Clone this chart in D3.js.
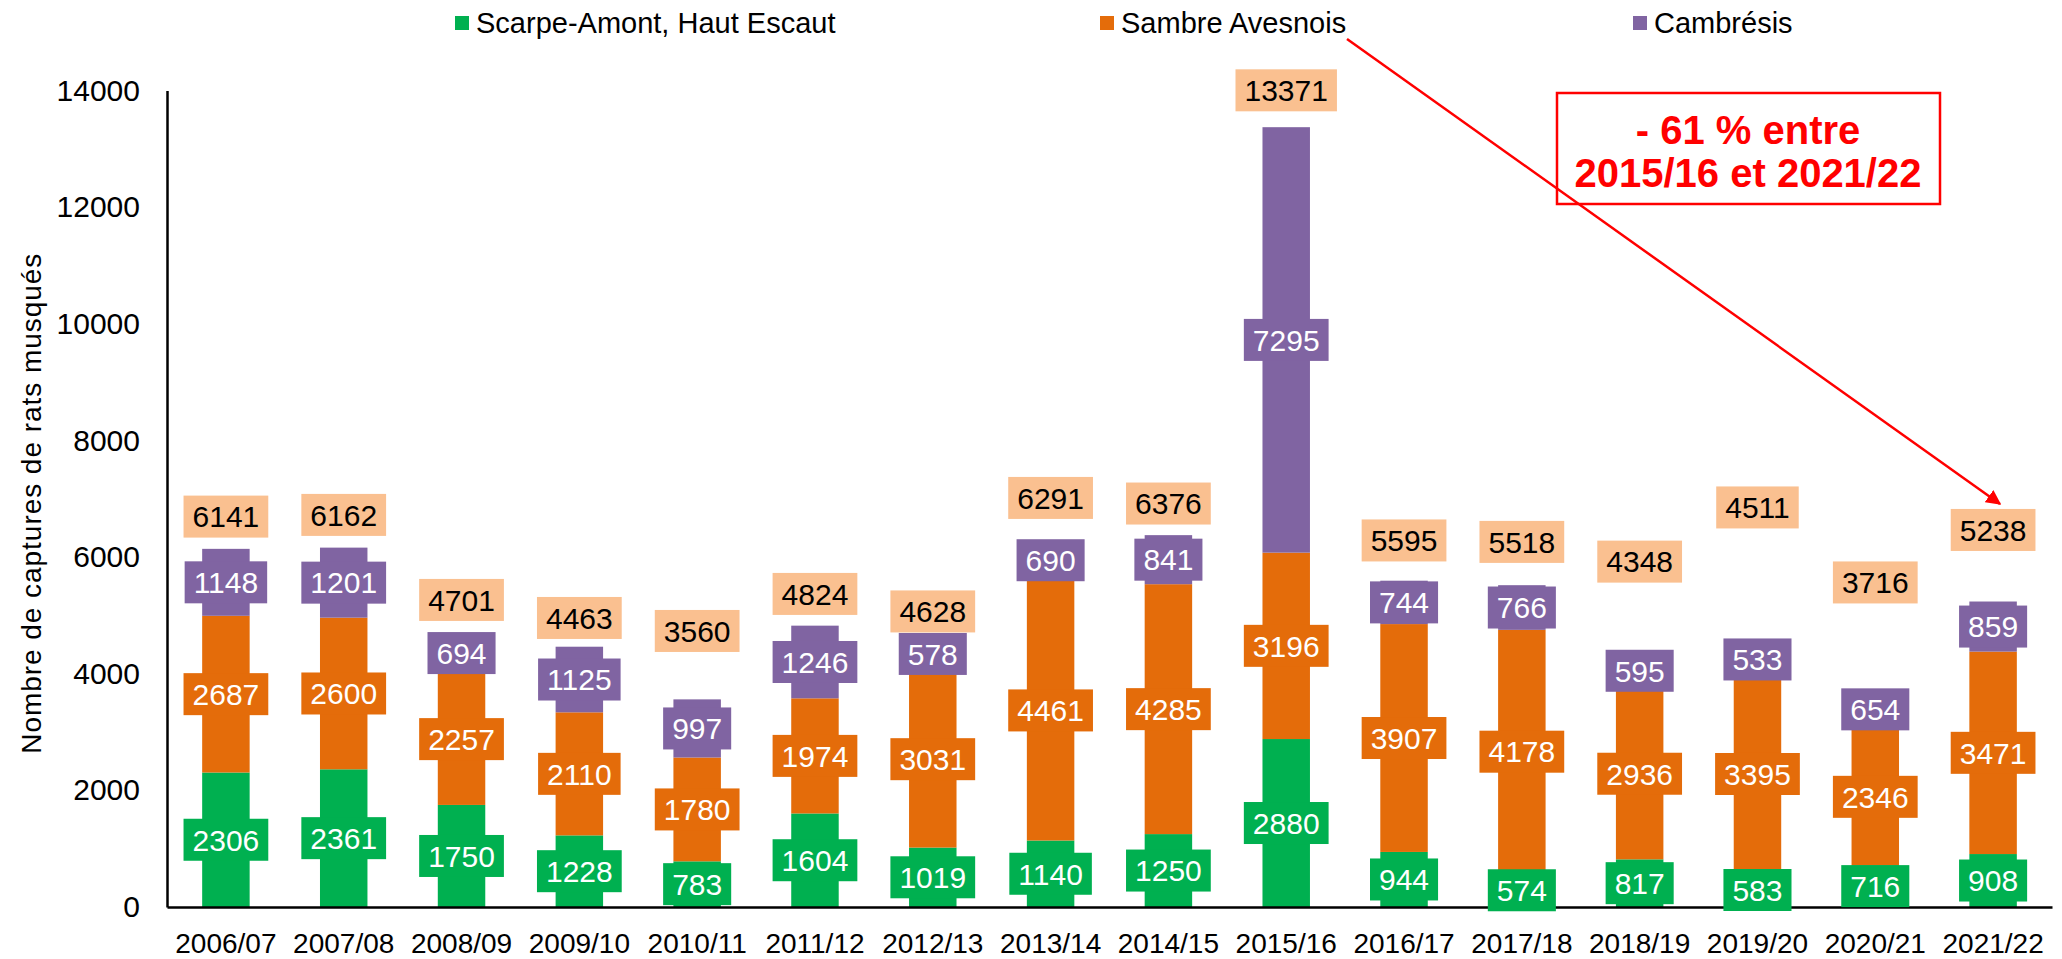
<!DOCTYPE html>
<html>
<head>
<meta charset="utf-8">
<script src="https://cdn.jsdelivr.net/npm/d3@7"></script>
<style>
    body { margin: 0; background: #fff; }
    svg { display: block; font-family: 'Liberation Sans', Arial, sans-serif; }
</style>
</head>
<body>
<div id="chart"></div>
<script>
'use strict';

var seasons = ['2006/07', '2007/08', '2008/09', '2009/10', '2010/11', '2011/12', '2012/13', '2013/14',
    '2014/15', '2015/16', '2016/17', '2017/18', '2018/19', '2019/20', '2020/21', '2021/22'];

var scarpe = [2306, 2361, 1750, 1228, 783, 1604, 1019, 1140, 1250, 2880, 944, 574, 817, 583, 716, 908];
var sambre = [2687, 2600, 2257, 2110, 1780, 1974, 3031, 4461, 4285, 3196, 3907, 4178, 2936, 3395, 2346, 3471];
var cambresis = [1148, 1201, 694, 1125, 997, 1246, 578, 690, 841, 7295, 744, 766, 595, 533, 654, 859];
var totals = [6141, 6162, 4701, 4463, 3560, 4824, 4628, 6291, 6376, 13371, 5595, 5518, 4348, 4511, 3716, 5238];

// how far above the stack each total label was moved by hand (in captures)
var totalLabelLift = [553, 561, 564, 493, 1173, 544, 440, 723, 542, 632, 690, 742, 1574, 2340, 1849, 1227];

var yTicks = [0, 2000, 4000, 6000, 8000, 10000, 12000, 14000];

var seriesNames = ['Scarpe-Amont, Haut Escaut', 'Sambre Avesnois', 'Cambrésis'];
var seriesColors = ['#00B050', '#E46C0A', '#8064A2'];

var width = 2062, height = 959;
var margin = {top: 90.5, right: 10, bottom: 52, left: 167};

var rows = seasons.map(function(s, i) {
    return {season: s, a: scarpe[i], b: sambre[i], c: cambresis[i], total: totals[i], lift: totalLabelLift[i]};
});

var stacked = d3.stack().keys(['a', 'b', 'c'])(rows);

var x = d3.scaleBand()
    .domain(seasons)
    .range([margin.left, width - margin.right]);

var y = d3.scaleLinear()
    .domain([0, 14000])
    .range([height - margin.bottom, margin.top]);

var barW = x.bandwidth() * 0.403;

var svg = d3.select('#chart').append('svg')
    .attr('width', width)
    .attr('height', height);

// bars
var layers = svg.selectAll('g.layer')
    .data(stacked)
    .enter().append('g')
    .attr('class', 'layer')
    .attr('fill', function(d, i) { return seriesColors[i]; });

layers.selectAll('rect')
    .data(function(d) { return d; })
    .enter().append('rect')
    .attr('x', function(d) { return x(d.data.season) + x.bandwidth() / 2 - barW / 2; })
    .attr('width', barW)
    .attr('y', function(d) { return y(d[1]); })
    .attr('height', function(d) { return y(d[0]) - y(d[1]); });

// axes
var yAxis = svg.append('g')
    .attr('transform', 'translate(' + margin.left + ',0)')
    .call(d3.axisLeft(y).tickValues(yTicks).tickFormat(d3.format('d')).tickSize(0).tickPadding(27));

var xAxis = svg.append('g')
    .attr('transform', 'translate(0,' + y(0) + ')')
    .call(d3.axisBottom(x).tickSize(0).tickPadding(26));

yAxis.select('.domain').attr('stroke', '#000').attr('stroke-width', 2.5);
xAxis.select('.domain').attr('stroke', '#000').attr('stroke-width', 2.5);
yAxis.selectAll('text').attr('font-size', 30).attr('fill', '#000').attr('font-family', 'Liberation Sans, Arial');
xAxis.selectAll('text').attr('font-size', 28).attr('fill', '#000').attr('font-family', 'Liberation Sans, Arial');

svg.append('text')
    .attr('transform', 'translate(41,' + ((y(0) + y(14000)) / 2 + 5) + ') rotate(-90)')
    .attr('text-anchor', 'middle')
    .attr('font-size', 28)
    .attr('font-family', 'Liberation Sans Narrow, Liberation Sans, Arial')
    .attr('textLength', 500)
    .text('Nombre de captures de rats musqués');

// a label: coloured box sized to its text
function label(g, cx, cy, txt, fill, color) {
    var t = g.append('text')
        .attr('x', cx)
        .attr('y', cy)
        .attr('dy', '0.36em')
        .attr('text-anchor', 'middle')
        .attr('font-size', 30)
        .attr('fill', color)
        .text(txt);
    var w = t.node().getComputedTextLength() + 18;
    g.insert('rect', 'text')
        .attr('x', cx - w / 2)
        .attr('y', cy - 21)
        .attr('width', w)
        .attr('height', 42)
        .attr('fill', fill);
}

var labels = svg.append('g');

stacked.forEach(function(layer, i) {
    layer.forEach(function(d) {
        var g = labels.append('g');
        label(g, x(d.data.season) + x.bandwidth() / 2, y((d[0] + d[1]) / 2),
            d[1] - d[0], seriesColors[i], '#fff');
    });
});

rows.forEach(function(d) {
    var g = labels.append('g');
    label(g, x(d.season) + x.bandwidth() / 2, y(d.total + d.lift), d.total, '#FAC090', '#000');
});

// legend
var legendX = [455, 1100, 1633];
var legend = svg.selectAll('g.legend')
    .data(seriesNames)
    .enter().append('g')
    .attr('class', 'legend')
    .attr('transform', function(d, i) { return 'translate(' + legendX[i] + ',23)'; });

legend.append('rect')
    .attr('x', 0)
    .attr('y', -7)
    .attr('width', 14)
    .attr('height', 14)
    .attr('fill', function(d, i) { return seriesColors[i]; });

legend.append('text')
    .attr('x', 21)
    .attr('dy', '0.36em')
    .attr('font-size', 29)
    .text(function(d) { return d; });

// annotation
svg.append('defs').append('marker')
    .attr('id', 'arrow')
    .attr('viewBox', '0 0 10 10')
    .attr('refX', 9)
    .attr('refY', 5)
    .attr('markerWidth', 6)
    .attr('markerHeight', 6)
    .attr('orient', 'auto')
    .append('path')
    .attr('d', 'M0,0L10,5L0,10z')
    .attr('fill', '#FF0000');

svg.append('rect')
    .attr('x', 1557)
    .attr('y', 93)
    .attr('width', 383)
    .attr('height', 111)
    .attr('fill', '#fff')
    .attr('stroke', '#FF0000')
    .attr('stroke-width', 2.5);

svg.append('line')
    .attr('x1', 1347)
    .attr('y1', 39)
    .attr('x2', 2000)
    .attr('y2', 504)
    .attr('stroke', '#FF0000')
    .attr('stroke-width', 2.5)
    .attr('marker-end', 'url(#arrow)');

var note = svg.append('text')
    .attr('text-anchor', 'middle')
    .attr('font-size', 40)
    .attr('font-weight', 'bold')
    .attr('fill', '#FF0000');

note.append('tspan').attr('x', 1748).attr('y', 144).text('- 61 % entre');
note.append('tspan').attr('x', 1748).attr('y', 187).text('2015/16 et 2021/22');
</script>
</body>
</html>
